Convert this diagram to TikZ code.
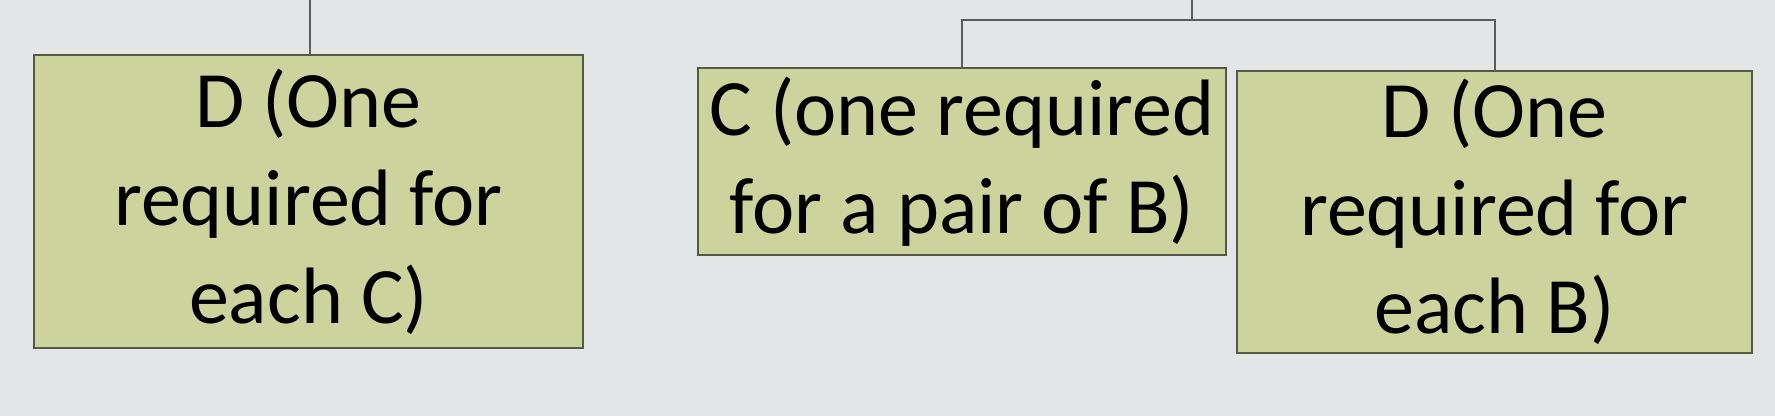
\documentclass[tikz,border=0pt]{standalone}
\usepackage{fontspec}
\setmainfont{Carlito}
\definecolor{bg}{HTML}{E3E5E6}
\definecolor{boxfill}{HTML}{CDD39C}
\definecolor{boxline}{HTML}{535A45}
\definecolor{conn}{HTML}{5A5C5E}
\begin{document}
\begin{tikzpicture}[x=1pt,y=1pt,
  box/.style={draw=boxline,line width=2.5pt,fill=boxfill,inner sep=0pt,align=center,
    font=\fontsize{80}{98}\selectfont,text=black},
  link/.style={draw=conn,line width=2pt}]
\fill[bg] (0,0) rectangle (1775,416);
\useasboundingbox (0,0) rectangle (1775,416);
\node[box,minimum width=549pt,minimum height=293pt] (D1) at (308.5,214.5) {D (One\\required for\\each C)};
\node[box,minimum width=528pt,minimum height=187pt] (C) at (962,254.5) {C (one required\\for a pair of B)};
\node[box,minimum width=515pt,minimum height=282pt] (D2) at (1494.5,204) {D (One\\required for\\each B)};
\coordinate (topL) at (310,416);
\coordinate (topR) at (1192,416);
\coordinate (bus) at (1192,396);
\draw[link] (topL) -- (topL |- D1.north);
\draw[link] (topR) -- (bus);
\draw[link] (C.north) |- (bus) -| (D2.north);
\end{tikzpicture}
\end{document}
